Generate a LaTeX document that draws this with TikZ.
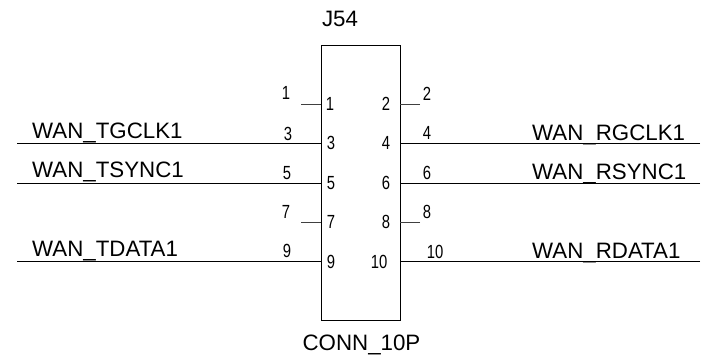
\documentclass[tikz,border=0pt]{standalone}
\usepackage{fontspec}
\setmainfont{Liberation Sans}
\tikzset{
  x=1pt,y=-1pt,
  wire/.style={line width=1pt,black},
  stub/.style={line width=0.7pt,black!75},
  netlbl/.style={anchor=base west,inner sep=0pt,font=\fontsize{22.3}{22}\selectfont},
  reflbl/.style={anchor=base,inner sep=0pt,font=\fontsize{22.3}{22}\selectfont},
  pinnum/.style={anchor=base,inner sep=0pt,xscale=0.78,font=\fontsize{19}{19}\selectfont},
  body/.style={draw=black,line width=0.9pt,minimum width=79pt,minimum height=275pt,inner sep=0pt,anchor=north west}
}
\begin{document}
\begin{tikzpicture}
\useasboundingbox (0,0) rectangle (703,356);
\node[body] (box) at (321,45) {};
\node[reflbl] (ref) at (340,26) {J54};
\node[reflbl] (val) at (361.5,350) {CONN\_10P};
% pin anchors on the box
\foreach \n/\y in {1/104,3/143,5/183,7/222,9/261}{
  \coordinate (p\n) at (321,\y);
}
\foreach \n/\y in {2/104,4/143,6/183,8/222,10/261}{
  \coordinate (p\n) at (400,\y);
}
% free ends
\coordinate (e1) at (301,104);
\coordinate (e7) at (301,222);
\coordinate (e2) at (420,104);
\coordinate (e8) at (420,222);
\coordinate (e3) at (17,143);
\coordinate (e5) at (17,183);
\coordinate (e9) at (17,261);
\coordinate (e4) at (700,143);
\coordinate (e6) at (700,183);
\coordinate (e10) at (700,261);
\draw[stub] (e1) -- (p1);
\draw[stub] (e7) -- (p7);
\draw[stub] (e2) -- (p2);
\draw[stub] (e8) -- (p8);
\draw[wire] (e3) -- (p3);
\draw[wire] (e5) -- (p5);
\draw[wire] (e9) -- (p9);
\draw[wire] (e4) -- (p4);
\draw[wire] (e6) -- (p6);
\draw[wire] (e10) -- (p10);
% outer pin numbers
\node[pinnum] (o1) at (286,99) {1};
\node[pinnum] (o3) at (288,140) {3};
\node[pinnum] (o5) at (287,179) {5};
\node[pinnum] (o7) at (286,218) {7};
\node[pinnum] (o9) at (287,257) {9};
\node[pinnum] (o2) at (427,100) {2};
\node[pinnum] (o4) at (427,139) {4};
\node[pinnum] (o6) at (427,179) {6};
\node[pinnum] (o8) at (427,218) {8};
\node[pinnum] (o10) at (435,258) {10};
% inner pin numbers
\node[pinnum] (i1) at (330,110) {1};
\node[pinnum] (i3) at (331,149) {3};
\node[pinnum] (i5) at (331,189) {5};
\node[pinnum] (i7) at (331,228) {7};
\node[pinnum] (i9) at (331,268) {9};
\node[pinnum] (i2) at (386,110) {2};
\node[pinnum] (i4) at (386,149) {4};
\node[pinnum] (i6) at (386,189) {6};
\node[pinnum] (i8) at (386,228) {8};
\node[pinnum] (i10) at (379,268) {10};
% net labels
\node[netlbl] (tg) at (32,138) {WAN\_TGCLK1};
\node[netlbl] (ts) at (32,177) {WAN\_TSYNC1};
\node[netlbl] (td) at (32,256) {WAN\_TDATA1};
\node[netlbl] (rg) at (532,140) {WAN\_RGCLK1};
\node[netlbl] (rs) at (532,179) {WAN\_RSYNC1};
\node[netlbl] (rd) at (532,258) {WAN\_RDATA1};
\end{tikzpicture}
\end{document}
